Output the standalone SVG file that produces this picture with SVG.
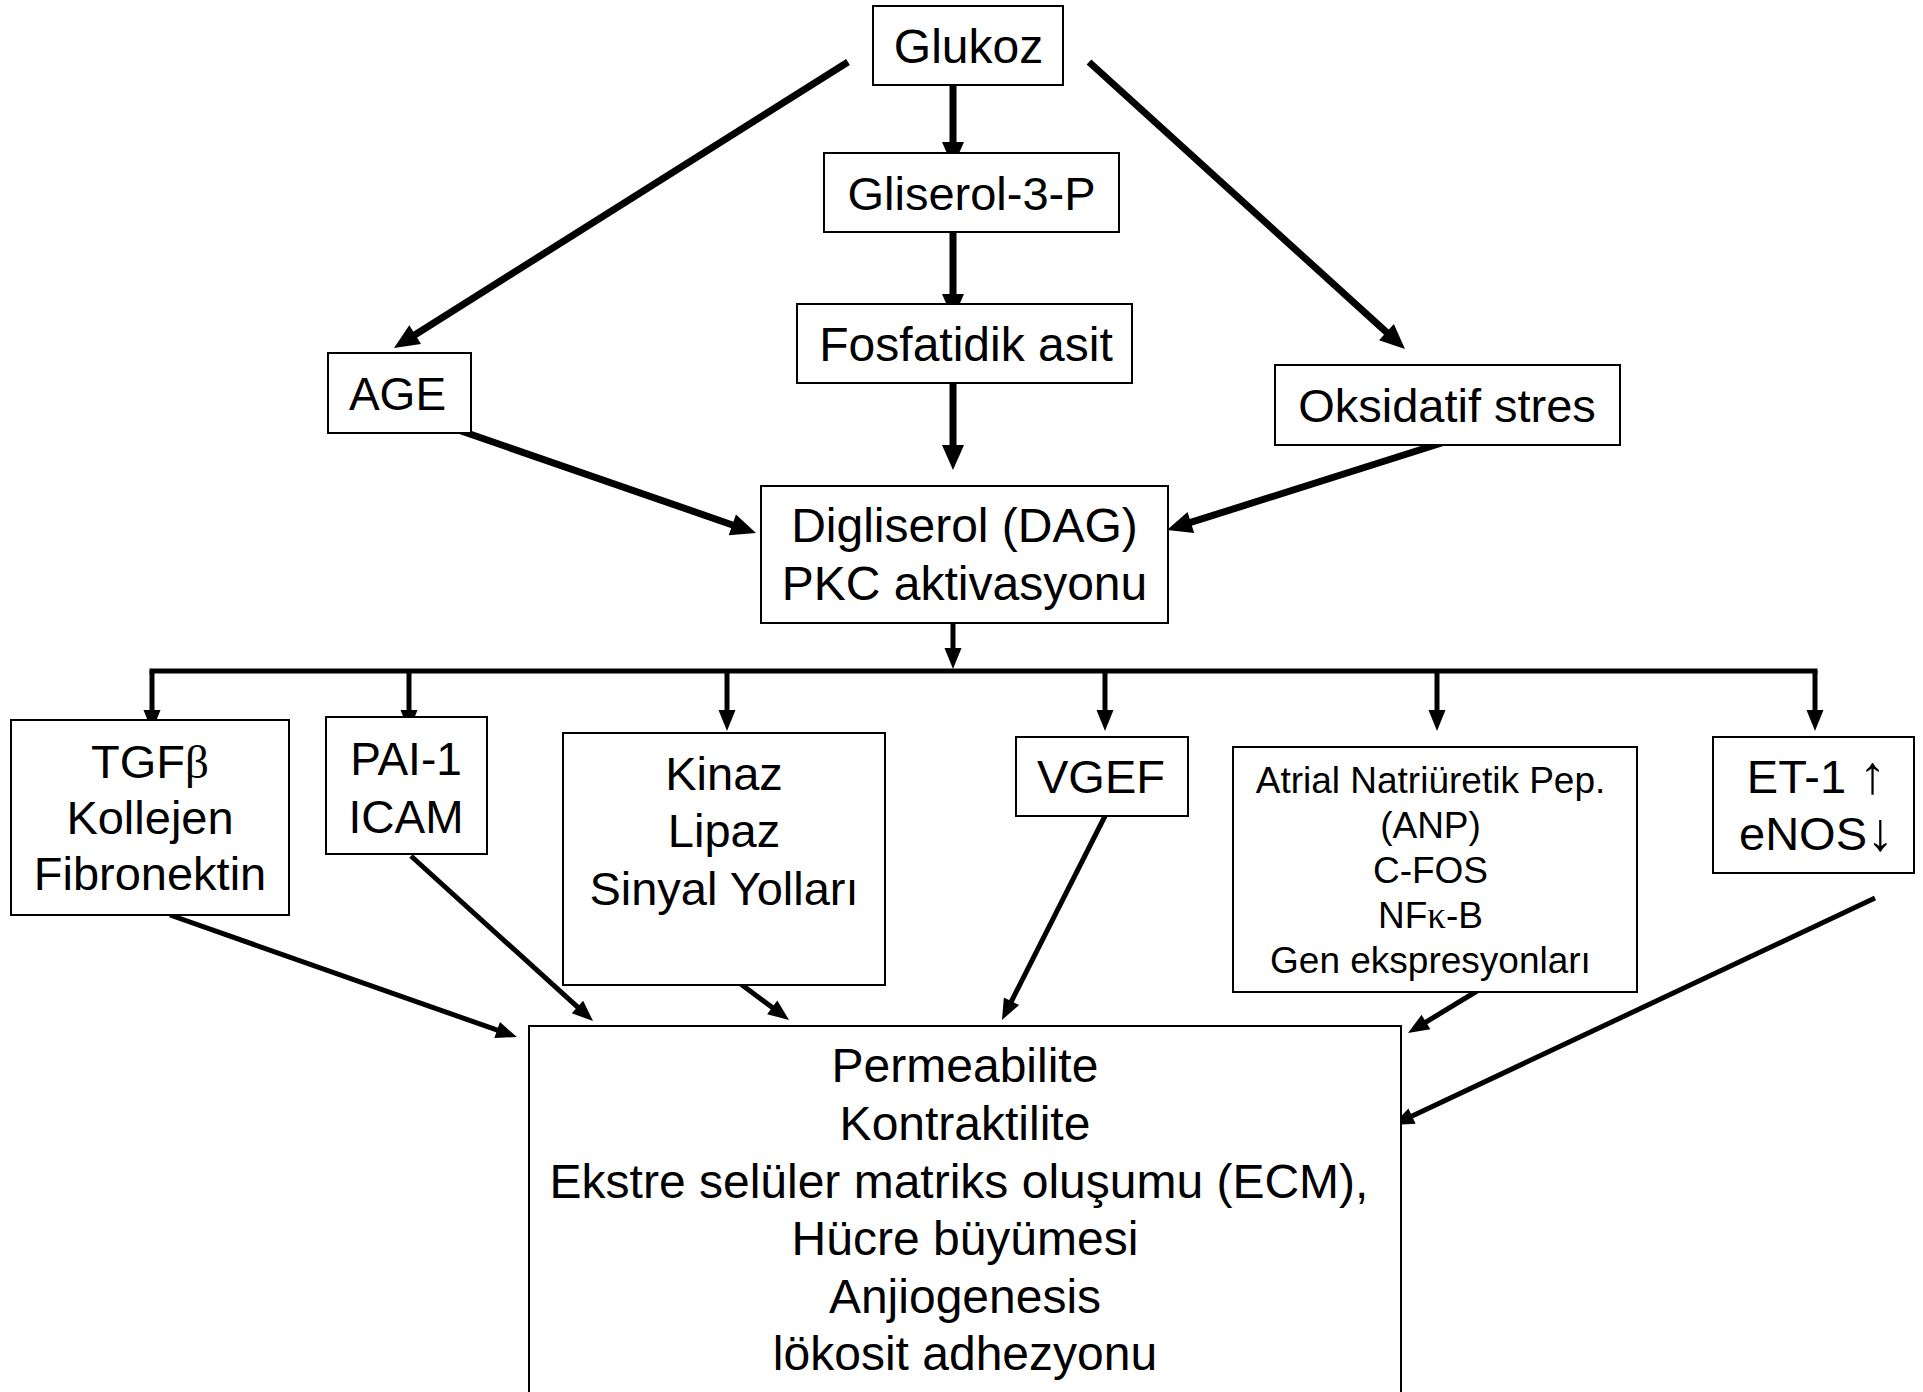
<svg xmlns="http://www.w3.org/2000/svg" width="1923" height="1392" viewBox="0 0 1923 1392">
  <style>
    .box { fill: #ffffff; stroke: #000000; stroke-width: 2; }
    .t { font-family: "Liberation Sans", Arial, sans-serif; fill: #000000; text-anchor: middle; }
    .sym { font-family: "Liberation Serif", "Times New Roman", serif; }
    .arr { font-size: 54px; }
    .f48 { font-size: 48px; }
    .f47 { font-size: 47px; }
    .f46 { font-size: 46px; }
    .f37 { font-size: 37px; }
    .thick { fill: none; stroke: #000000; stroke-width: 7; marker-end: url(#head-big); }
    .thin { fill: none; stroke: #000000; stroke-width: 5; marker-end: url(#head-small); }
    .bus { fill: none; stroke: #000000; stroke-width: 5; stroke-linecap: square; }
  </style>
  <defs>
    <!-- heads start at the line end and extend forward to the tip -->
    <marker id="head-big" markerUnits="userSpaceOnUse" markerWidth="26" markerHeight="24" viewBox="0 -12 26 24" refX="0" refY="0" orient="auto" overflow="visible">
      <path d="M-1,-11 L24,0 L-1,11 Z" fill="#000000"/>
    </marker>
    <marker id="head-small" markerUnits="userSpaceOnUse" markerWidth="22" markerHeight="18" viewBox="0 -9 22 18" refX="0" refY="0" orient="auto" overflow="visible">
      <path d="M-1,-8.5 L20,0 L-1,8.5 Z" fill="#000000"/>
    </marker>
  </defs>

  <rect width="1923" height="1392" fill="#ffffff"/>

  <!-- connectors -->
  <g id="connectors">
    <line class="thick" x1="953" y1="85" x2="953" y2="143"/>
    <line class="thick" x1="953" y1="232" x2="953" y2="295"/>
    <line class="thick" x1="953" y1="380" x2="953" y2="446"/>
    <line class="thick" x1="848" y1="62" x2="414.3" y2="335.2"/>
    <line class="thick" x1="1089" y1="62" x2="1387.2" y2="332.9"/>
    <line class="thick" x1="441" y1="424" x2="733.3" y2="525.2"/>
    <line class="thick" x1="1451" y1="440" x2="1189.9" y2="522.7"/>

    <!-- DAG down to the distribution bus -->
    <line class="thin" x1="953" y1="612" x2="953" y2="649"/>
    <line class="bus" x1="152" y1="671" x2="1815" y2="671"/>
    <line class="thin" x1="152" y1="671" x2="152" y2="711"/>
    <line class="thin" x1="409" y1="671" x2="409" y2="711"/>
    <line class="thin" x1="727" y1="671" x2="727" y2="711"/>
    <line class="thin" x1="1105" y1="671" x2="1105" y2="711"/>
    <line class="thin" x1="1437" y1="671" x2="1437" y2="711"/>
    <line class="thin" x1="1815" y1="671" x2="1815" y2="711"/>

    <!-- effects converging on the outcome box -->
    <line class="thin" x1="170" y1="915" x2="498.1" y2="1030.4"/>
    <line class="thin" x1="411" y1="856" x2="578.2" y2="1007.6"/>
    <line class="thin" x1="730" y1="976" x2="773" y2="1008"/>
    <line class="thin" x1="1107" y1="812" x2="1011" y2="1002.1"/>
    <line class="thin" x1="1482" y1="988" x2="1425.1" y2="1022.6"/>
    <line class="thin" x1="1875" y1="898" x2="1411.1" y2="1116.5"/>
  </g>

  <g id="glukoz">
    <rect class="box" x="873" y="6" width="190" height="79"/>
    <text class="t f48" x="968.5" y="63">Glukoz</text>
  </g>
  <g id="gliserol">
    <rect class="box" x="824" y="153" width="295" height="79"/>
    <text class="t f47" x="971.5" y="210">Gliserol-3-P</text>
  </g>
  <g id="fosfatidik">
    <rect class="box" x="797" y="304" width="335" height="79"/>
    <text class="t f48" x="966" y="361">Fosfatidik asit</text>
  </g>
  <g id="age">
    <rect class="box" x="328" y="353" width="143" height="80"/>
    <text class="t f46" x="397.5" y="410">AGE</text>
  </g>
  <g id="oksidatif">
    <rect class="box" x="1275" y="365" width="345" height="80"/>
    <text class="t f47" x="1447" y="422">Oksidatif stres</text>
  </g>
  <g id="dag">
    <rect class="box" x="761" y="486" width="407" height="137"/>
    <text class="t f48" x="964.5" y="542">Digliserol (DAG)</text>
    <text class="t f48" x="964.5" y="600">PKC aktivasyonu</text>
  </g>
  <g id="tgf">
    <rect class="box" x="11" y="720" width="278" height="195"/>
    <text class="t f47" x="150" y="778">TGF<tspan class="sym">β</tspan></text>
    <text class="t f47" x="150" y="834">Kollejen</text>
    <text class="t f47" x="150" y="890">Fibronektin</text>
  </g>
  <g id="pai">
    <rect class="box" x="326" y="717" width="161" height="137"/>
    <text class="t f46" x="406" y="775">PAI-1</text>
    <text class="t f46" x="406" y="833">ICAM</text>
  </g>
  <g id="kinaz">
    <rect class="box" x="563" y="733" width="322" height="252"/>
    <text class="t f47" x="724" y="790">Kinaz</text>
    <text class="t f47" x="724" y="847">Lipaz</text>
    <text class="t f47" x="724" y="905">Sinyal Yolları</text>
  </g>
  <g id="vgef">
    <rect class="box" x="1016" y="737" width="172" height="79"/>
    <text class="t f47" x="1101" y="793">VGEF</text>
  </g>
  <g id="atrial">
    <rect class="box" x="1233" y="747" width="404" height="245"/>
    <text class="t f37" x="1430.5" y="793">Atrial Natriüretik Pep.</text>
    <text class="t f37" x="1430.5" y="838">(ANP)</text>
    <text class="t f37" x="1430.5" y="883">C-FOS</text>
    <text class="t f37" x="1430.5" y="928">NF<tspan class="sym">κ</tspan>-B</text>
    <text class="t f37" x="1430.5" y="973">Gen ekspresyonları</text>
  </g>
  <g id="et1">
    <rect class="box" x="1713" y="737" width="201" height="136"/>
    <text class="t f47" x="1816.5" y="793">ET-1 <tspan class="arr">↑</tspan></text>
    <text class="t f47" x="1816.5" y="850">eNOS<tspan class="arr">↓</tspan></text>
  </g>
  <g id="sonuclar">
    <rect class="box" x="529" y="1026" width="872" height="380"/>
    <text class="t f48" x="965" y="1082">Permeabilite</text>
    <text class="t f48" x="965" y="1140">Kontraktilite</text>
    <text class="t f48" x="959" y="1198">Ekstre selüler matriks oluşumu (ECM),</text>
    <text class="t f48" x="965" y="1255">Hücre büyümesi</text>
    <text class="t f48" x="965" y="1313">Anjiogenesis</text>
    <text class="t f48" x="965" y="1370">lökosit adhezyonu</text>
  </g>
</svg>
